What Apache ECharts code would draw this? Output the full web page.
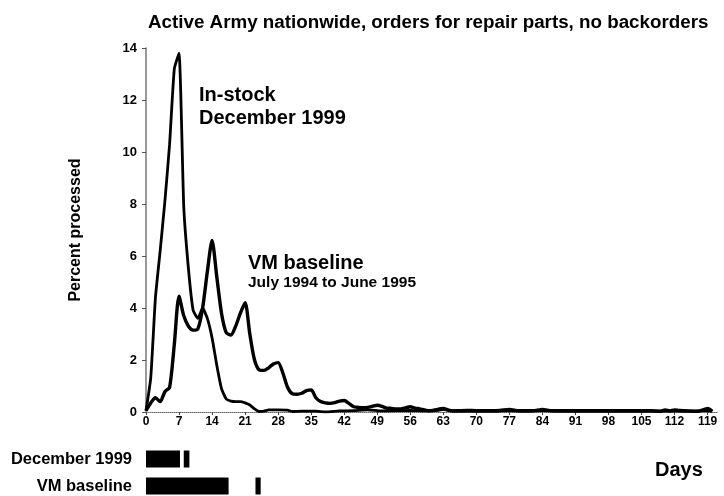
<!DOCTYPE html>
<html>
<head>
<meta charset="utf-8">
<script src="https://cdn.jsdelivr.net/npm/echarts@6/dist/echarts.min.js"></script>
<style>
  html, body { margin: 0; padding: 0; background: #fff; }
  #chart { width: 724px; height: 496px; }
</style>
</head>
<body>
<div id="chart"></div>
<script>
const titleText = 'Active Army nationwide, orders for repair parts, no backorders';
const yAxisTitle = 'Percent processed';
const xAxisTitle = 'Days';

const tickDays = [0, 7, 14, 21, 28, 35, 42, 49, 56, 63, 70, 77, 84, 91, 98, 105, 112, 119];

// In-stock, December 1999
const inStockDays = [0,1,2,3,4,5,6,7,8,9,10,11,12,13,14,15,16,17,18,19,20,21,22,23,24,25,26,
  28,30,31,33,36,38,41,44,47,50,53,56,59,62,63,64,66,
  70,74,77,80,84,88,92,96,100,104,108,110,112,116,119,120];
const inStockPct = [0.05,1.3,4.4,6.2,8.1,10.3,13.2,13.8,7.9,5.5,3.9,3.6,4.0,3.6,2.85,1.8,0.9,0.5,0.42,0.4,0.4,0.35,0.27,0.12,0.02,0.03,0.08,
  0.08,0.07,0.02,0.03,0.03,0.0,0.04,0.05,0.08,0.04,0.05,0.06,0.04,0.06,0.1,0.06,0.03,
  0.04,0.03,0.05,0.03,0.05,0.03,0.03,0.03,0.03,0.03,0.03,0.03,0.03,0.03,0.05,0.02];

// VM baseline, July 1994 to June 1995
const vmDays = [0,1,2,3,4,5,6,7,8,9,10,11,12,13,14,15,16,17,18,19,20,21,22,23,24,25,26,27,28,29,
  30,31,32,33,34,35,36,37,38,39,40,41,42,43,44,45,46,47,48,49,50,51,52,53,54,55,56,57,58,59,
  60,61,62,63,64,65,66,
  68,70,73,75,77,79,82,84,86,89,92,96,100,104,107,109,110,111,112,113,115,117,119,120];
const vmPct = [0.05,0.35,0.55,0.4,0.78,0.95,2.6,4.45,3.7,3.3,3.15,3.2,4.0,5.4,6.6,5.2,3.8,3.05,2.96,3.3,3.8,4.2,3.0,2.0,1.62,1.6,1.7,1.85,1.9,1.5,
  0.95,0.7,0.68,0.72,0.82,0.85,0.55,0.4,0.35,0.33,0.36,0.42,0.44,0.33,0.2,0.18,0.17,0.18,0.22,0.26,0.22,0.15,0.14,0.12,0.12,0.16,0.2,0.15,0.12,0.08,
  0.05,0.07,0.11,0.14,0.08,0.04,0.05,
  0.06,0.05,0.05,0.06,0.1,0.05,0.05,0.1,0.05,0.05,0.05,0.05,0.05,0.05,0.05,0.03,0.08,0.04,0.08,0.06,0.04,0.03,0.14,0.03];

// Bottom bars (day ranges)
const barRows = ['December 1999', 'VM baseline'];
const decSegments = [[0, 7.2], [8.0, 9.2]];
const vmSegments = [[0, 17.5], [23.2, 24.3]];

const FONT = "'Liberation Sans', Arial, Helvetica, sans-serif";

function pairs(xs, ys) { return xs.map((x, i) => [x, ys[i]]); }

const barData = [];
decSegments.forEach(s => barData.push([0, s[0], s[1]]));
vmSegments.forEach(s => barData.push([1, s[0], s[1]]));

const chart = echarts.init(document.getElementById('chart'), null, { renderer: 'canvas' });
chart.setOption({
  animation: false,
  backgroundColor: '#ffffff',
  textStyle: { fontFamily: FONT },
  title: {
    text: titleText, left: 143, top: 8,
    textStyle: { fontFamily: FONT, fontWeight: 'bold', fontSize: 18.8, color: '#000' }
  },
  grid: [
    { left: 146, top: 48, width: 571, height: 364 },
    { left: 146, top: 459, width: 571, height: 27 }
  ],
  xAxis: [
    {
      type: 'value', gridIndex: 0, min: 0, max: 121,
      axisLine: { show: true, lineStyle: { color: '#666', width: 1, type: 'dotted' } },
      axisTick: { show: true, customValues: tickDays, length: 3, lineStyle: { color: '#444' } },
      axisLabel: { customValues: tickDays, fontFamily: FONT, fontSize: 12, fontWeight: 'bold', color: '#000', margin: 4 },
      splitLine: { show: false }
    },
    { type: 'value', gridIndex: 1, min: 0, max: 121, show: false }
  ],
  yAxis: [
    {
      type: 'value', gridIndex: 0, min: 0, max: 14, interval: 2,
      axisLine: { show: true, lineStyle: { color: '#777', width: 1.5 } },
      axisTick: { show: true, length: 4, lineStyle: { color: '#555' } },
      axisLabel: { fontFamily: FONT, fontSize: 13, fontWeight: 'bold', color: '#000', margin: 9 },
      splitLine: { show: false },
      name: yAxisTitle, nameLocation: 'middle', nameGap: 62,
      nameTextStyle: { fontFamily: FONT, fontSize: 16, fontWeight: 'bold', color: '#000' }
    },
    {
      type: 'category', gridIndex: 1, data: barRows, inverse: true, boundaryGap: false,
      axisLine: { show: false }, axisTick: { show: false },
      axisLabel: { fontFamily: FONT, fontSize: 16.5, fontWeight: 'bold', color: '#000', margin: 14 }
    }
  ],
  graphic: [
    { type: 'text', left: 199, top: 84, style: { text: 'In-stock\nDecember 1999', font: "bold 20px " + FONT, fill: '#000', lineHeight: 23 } },
    { type: 'text', left: 248, top: 253, style: { text: 'VM baseline', font: "bold 20px " + FONT, fill: '#000' } },
    { type: 'text', left: 248, top: 275, style: { text: 'July 1994 to June 1995', font: "bold 15.5px " + FONT, fill: '#000' } },
    { type: 'text', left: 655, top: 460, style: { text: xAxisTitle, font: "bold 20px " + FONT, fill: '#000' } }
  ],
  series: [
    {
      name: 'In-stock December 1999', type: 'line', xAxisIndex: 0, yAxisIndex: 0,
      data: pairs(inStockDays, inStockPct), showSymbol: false, smooth: 0.15,
      lineStyle: { color: '#000', width: 2.8 }
    },
    {
      name: 'VM baseline', type: 'line', xAxisIndex: 0, yAxisIndex: 0,
      data: pairs(vmDays, vmPct), showSymbol: false, smooth: 0.25,
      lineStyle: { color: '#000', width: 3.4 }
    },
    {
      name: 'Ranges', type: 'custom', xAxisIndex: 1, yAxisIndex: 1,
      encode: { x: [1, 2], y: 0 },
      data: barData,
      renderItem: function (params, api) {
        const cat = api.value(0);
        const a = api.coord([api.value(1), cat]);
        const b = api.coord([api.value(2), cat]);
        const h = 17;
        return { type: 'rect', shape: { x: a[0], y: a[1] - h / 2, width: b[0] - a[0], height: h }, style: { fill: '#000' } };
      }
    }
  ]
});
</script>
</body>
</html>
